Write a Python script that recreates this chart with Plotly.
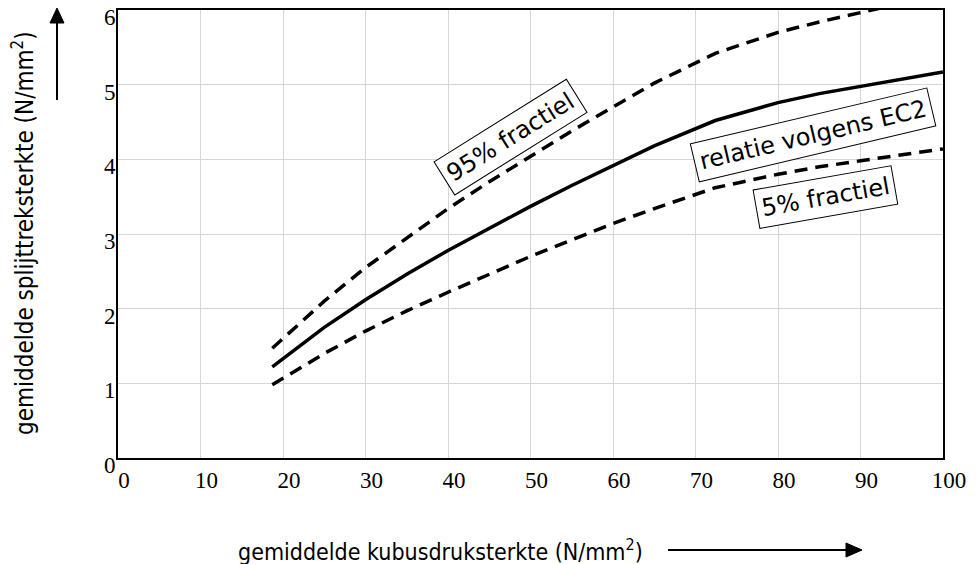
import plotly.graph_objects as go

# ---- data ----
kubus = [18.7, 25, 30, 35, 40, 45, 50, 55, 60, 65, 72.4, 80, 85, 90, 95, 100]
gemiddeld = [1.22, 1.75, 2.12, 2.46, 2.78, 3.08, 3.37, 3.65, 3.92, 4.18, 4.52, 4.76, 4.88, 4.98, 5.08, 5.17]
kubus_95 = [18.7, 25, 30, 35, 40, 45, 50, 55, 60, 65, 72.4, 80, 85, 90, 93]
fractiel_95 = [1.47, 2.10, 2.55, 2.95, 3.34, 3.70, 4.04, 4.38, 4.70, 5.02, 5.42, 5.70, 5.84, 5.97, 6.04]
fractiel_5 = [0.98, 1.40, 1.70, 1.97, 2.22, 2.46, 2.70, 2.92, 3.14, 3.34, 3.62, 3.80, 3.90, 3.98, 4.06, 4.14]

x_ticks = [0, 10, 20, 30, 40, 50, 60, 70, 80, 90, 100]
y_ticks = [0, 1, 2, 3, 4, 5, 6]

labels = ["95% fractiel", "relatie volgens EC2", "5% fractiel"]
label_x = [47.6, 84.2, 85.8]
label_y = [4.30, 4.33, 3.49]
label_angle = [-32, -13.3, -10]

# page body has an 8px margin: work in screen pixels, then shift
OFF = 8
W, H = 976 - OFF, 564 - OFF
PL, PR, PT, PB = 118, 943, 10, 458          # plot area in screen pixels
L, T = PL - OFF, PT - OFF
R, B = W - (PR - OFF), H - (PB - OFF)
pw, ph = PR - PL, PB - PT

def px(x):
    return (x - PL) / pw

def py(y):
    return (PB - y) / ph

fig = go.Figure()
line_w = 3.5
dash = "13px,8px"
fig.add_trace(go.Scatter(x=kubus_95, y=fractiel_95, mode="lines",
                         line=dict(color="black", width=line_w, dash=dash),
                         hoverinfo="skip"))
fig.add_trace(go.Scatter(x=kubus, y=gemiddeld, mode="lines",
                         line=dict(color="black", width=line_w),
                         hoverinfo="skip"))
fig.add_trace(go.Scatter(x=kubus, y=fractiel_5, mode="lines",
                         line=dict(color="black", width=line_w, dash=dash),
                         hoverinfo="skip"))

font_lab = "DejaVu Sans, Verdana, sans-serif"
font_title = "DejaVu Sans Condensed, DejaVu Sans, sans-serif"
for t, x, y, a in zip(labels, label_x, label_y, label_angle):
    fig.add_annotation(x=x, y=y, xref="x", yref="y", text=t, showarrow=False,
                       textangle=a, font=dict(family=font_lab, size=24, color="black"),
                       bgcolor="white", bordercolor="black", borderwidth=1, borderpad=5,
                       xanchor="center", yanchor="middle")

# axis titles
fig.add_annotation(x=px(440), y=py(550), xref="paper", yref="paper",
                   text="gemiddelde kubusdruksterkte (N/mm<sup>2</sup>)", showarrow=False,
                   font=dict(family=font_title, size=23, color="black"),
                   xanchor="center", yanchor="middle")
fig.add_annotation(x=px(23), y=py(233), xref="paper", yref="paper",
                   text="gemiddelde splijttreksterkte (N/mm<sup>2</sup>)", showarrow=False,
                   textangle=-90,
                   font=dict(family=font_title, size=24, color="black"),
                   xanchor="center", yanchor="middle")

# arrows (shaft + filled head)
shapes = []
shapes.append(dict(type="line", xref="paper", yref="paper",
                   x0=px(57), x1=px(57), y0=py(100), y1=py(22),
                   line=dict(color="black", width=2)))
shapes.append(dict(type="path", xref="paper", yref="paper",
                   path=f"M {px(57)},{py(8)} L {px(50)},{py(23)} L {px(64)},{py(23)} Z",
                   fillcolor="black", line=dict(color="black", width=1)))
shapes.append(dict(type="line", xref="paper", yref="paper",
                   x0=px(668), x1=px(848), y0=py(550), y1=py(550),
                   line=dict(color="black", width=2)))
shapes.append(dict(type="path", xref="paper", yref="paper",
                   path=f"M {px(862)},{py(550)} L {px(846)},{py(543)} L {px(846)},{py(557)} Z",
                   fillcolor="black", line=dict(color="black", width=1)))

tick_font = dict(family="Liberation Serif, Times New Roman, serif", size=23, color="black")
fig.update_layout(
    width=W, height=H,
    margin=dict(l=L, r=R, t=T, b=B, pad=0),
    paper_bgcolor="white", plot_bgcolor="white",
    showlegend=False,
    shapes=shapes,
    xaxis=dict(range=[0, 100], tickvals=x_ticks, ticktext=[str(v) for v in x_ticks],
               showgrid=True, gridcolor="#d6d6d6", gridwidth=1,
               showline=True, linecolor="black", linewidth=2, mirror=True,
               ticks="", tickfont=tick_font, ticklabelstandoff=0, ticklabelshift=6,
               ticklabeloverflow="allow", automargin=False,
               zeroline=False, fixedrange=True),
    yaxis=dict(range=[0, 6], tickvals=y_ticks, ticktext=[str(v) for v in y_ticks],
               showgrid=True, gridcolor="#d6d6d6", gridwidth=1,
               showline=True, linecolor="black", linewidth=2, mirror=True,
               ticks="", tickfont=tick_font, ticklabelstandoff=-4, ticklabelshift=7,
               ticklabeloverflow="allow", automargin=False,
               zeroline=False, fixedrange=True),
)

fig.write_html("out.html")
